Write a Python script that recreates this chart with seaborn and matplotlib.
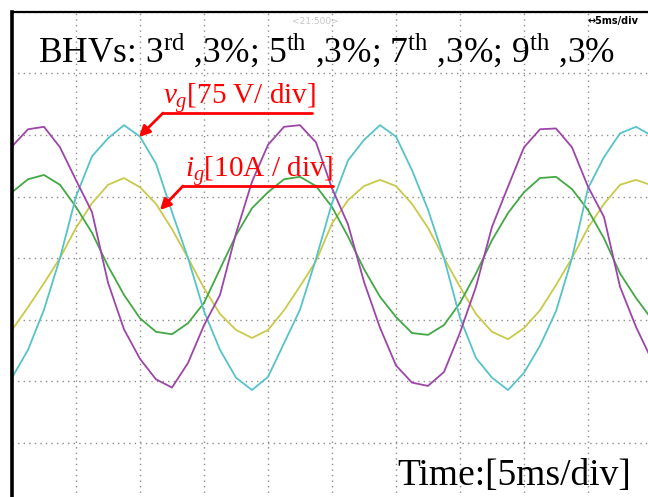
import matplotlib.pyplot as plt
import pandas as pd
import seaborn as sns
from matplotlib.lines import Line2D

# sample times (ms), read every quarter division (5 ms/div)
time_ms = [0, 1.25, 2.5, 3.75, 5, 6.25, 7.5, 8.75, 10, 11.25,
           12.5, 13.75, 15, 16.25, 17.5, 18.75, 20, 21.25, 22.5, 23.75,
           25, 26.25, 27.5, 28.75, 30, 31.25, 32.5, 33.75, 35, 36.25,
           37.5, 38.75, 40, 41.25, 42.5, 43.75, 45, 46.25, 47.5, 48.75, 50]

# grid voltages (V), cyan and purple traces
vg_a = [-146, -112, -63, 0, 75, 124, 146, 162, 148, 115,
        56, 0, -65, -112, -146, -161, -145, -104, -63, -1,
        67, 119, 144, 162, 148, 107, 59, 0, -73, -122,
        -146, -161, -140, -107, -65, 0, 85, 123, 152, 160, 149]
vg_b = [136, 157, 160, 135, 95, 56, -30, -87, -123, -148,
        -158, -128, -82, -45, 30, 93, 138, 160, 162, 141,
        85, 41, -29, -85, -131, -152, -156, -139, -91, -35,
        38, 87, 135, 157, 158, 135, 87, 50, -35, -84, -125]

# grid currents (A), yellow and green traces
ig_a = [-11.7, -8.0, -4.1, 0.0, 4.9, 8.9, 11.9, 13.0, 11.5, 8.8,
        4.7, 0.0, -4.9, -9.1, -11.7, -13.0, -11.7, -8.5, -4.6, -0.5,
        5.6, 9.4, 11.7, 12.7, 11.7, 8.8, 4.9, 0.0, -4.7, -9.1,
        -12.0, -13.2, -11.4, -8.5, -4.4, 0.0, 4.9, 8.8, 11.9, 12.7, 11.8]
ig_b = [10.7, 12.8, 13.5, 11.9, 8.3, 4.1, -1.3, -6.0, -9.8, -12.0,
        -12.4, -10.6, -7.3, -1.8, 3.7, 8.1, 10.7, 12.8, 13.2, 11.7,
        8.3, 3.5, -1.8, -6.3, -9.6, -12.2, -12.5, -10.9, -7.3, -2.5,
        2.9, 7.3, 10.7, 13.0, 13.2, 11.2, 7.8, 3.2, -2.5, -6.5, -10.0]

V_DIV = 75
I_DIV = 10
T_DIV = 5

df = pd.DataFrame({"t": time_ms, "vg_a": vg_a, "vg_b": vg_b, "ig_a": ig_a, "ig_b": ig_b})

sns.set_style("white")
plt.rcParams["font.family"] = ["Liberation Serif", "DejaVu Serif"]
plt.rcParams["mathtext.fontset"] = "custom"
plt.rcParams["mathtext.rm"] = "Liberation Serif"
plt.rcParams["mathtext.it"] = "Liberation Serif:italic"
plt.rcParams["text.color"] = "black"

W, H = 648, 497
fig = plt.figure(figsize=(W / 100, H / 100), dpi=100)


def fp(x, y):
    # pixel (top-left origin) -> figure fraction
    return x / W, 1 - y / H


# scope screen: 10 x 8 divisions, partly cropped on the right and bottom
ax = fig.add_axes([12 / W, (H - 504) / H, 640 / W, 492 / H])

traces = [
    ("ig_a", I_DIV, "#c9c94a"),
    ("ig_b", I_DIV, "#43a843"),
    ("vg_a", V_DIV, "#55c3c8"),
    ("vg_b", V_DIV, "#9d45a8"),
]
for col, scale, color in traces:
    sns.lineplot(x=df["t"], y=df[col] / scale, color=color, linewidth=1.3,
                 solid_joinstyle="round", ax=ax)

ax.set_xlim(0, 10 * T_DIV)
ax.set_ylim(-4, 4)
ax.set_xticks([T_DIV * k for k in range(11)])
ax.set_yticks(range(-4, 5))
ax.grid(True, color="#8c8c8c", linestyle=(0, (1, 3)), linewidth=1.0)
ax.set_axisbelow(True)
ax.tick_params(length=0, labelbottom=False, labelleft=False)
ax.set_xlabel("")
ax.set_ylabel("")
ax.spines["left"].set_linewidth(2.6)
ax.spines["top"].set_linewidth(1.6)
for s in ["left", "top"]:
    ax.spines[s].set_color("black")

# header texts
fig.text(*fp(38, 62), r"BHVs: $3^{\mathrm{rd}}$ ,3%; $5^{\mathrm{th}}$ ,3%; "
         r"$7^{\mathrm{th}}$ ,3%; $9^{\mathrm{th}}$ ,3%",
         fontsize=25.5, color="black", va="baseline", ha="left")
fig.text(*fp(315, 24), "<21:500>", fontsize=6.5, color="#c4c4c4",
         family="DejaVu Sans", ha="center", va="baseline")
fig.text(*fp(588, 24), "\u21945ms/div", fontsize=7, color="black",
         family="DejaVu Sans", weight="bold", ha="left", va="baseline")

# red labels with leader arrows
red = "#ff0000"
fig.text(*fp(163, 104), r"$v_g$[75 V/ div]", fontsize=21, color=red, va="baseline")
fig.text(*fp(185, 177), r"$i_g$[10A / div]", fontsize=21, color=red, va="baseline")

for (x0, x1, y, tip) in [(312, 163, 113, (139, 137)), (333, 183, 186, (160, 210))]:
    fig.add_artist(Line2D([fp(x0, y)[0], fp(x1, y)[0]], [fp(x0, y)[1], fp(x1, y)[1]],
                          color=red, linewidth=2.0, transform=fig.transFigure))
    ax.annotate("", xy=fp(*tip), xytext=fp(x1, y), xycoords="figure fraction",
                textcoords="figure fraction",
                arrowprops=dict(arrowstyle="-|>", color=red, lw=2.0,
                                mutation_scale=16, shrinkA=0, shrinkB=0))

fig.text(*fp(397, 485), "Time:[5ms/div]", fontsize=27, color="black",
         va="baseline", ha="left")

fig.savefig("out.png", dpi=100)
